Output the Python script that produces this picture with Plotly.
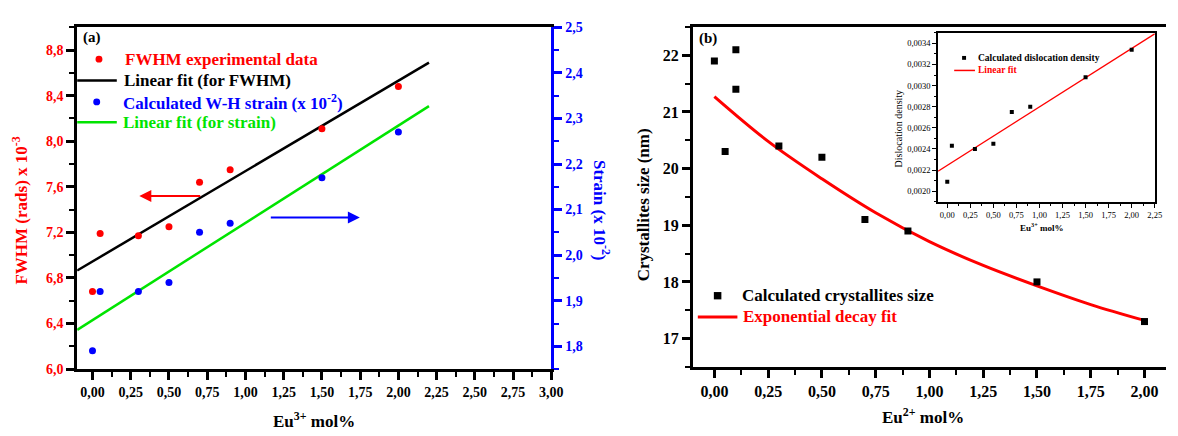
import plotly.graph_objects as go

W, H = 1178, 436

# ---------------- data: panel (a) ----------------
eu_a = [0, 0.05, 0.3, 0.5, 0.7, 0.9, 1.5, 2.0]
fwhm = [6.68, 7.19, 7.17, 7.25, 7.64, 7.75, 8.11, 8.48]
strain = [1.79, 1.92, 1.92, 1.94, 2.05, 2.07, 2.17, 2.27]
fit_x_a = [-0.1, 2.2]
fwhm_fit = [6.865, 8.69]
strain_fit = [1.836, 2.327]

# ---------------- data: panel (b) ----------------
eu_b = [0, 0.05, 0.1, 0.1, 0.3, 0.5, 0.7, 0.9, 1.5, 2.0]
cryst = [21.9, 20.3, 22.1, 21.4, 20.4, 20.2, 19.1, 18.9, 18.0, 17.3]
decay_x = [0, 0.25, 0.5, 0.75, 1.0, 1.25, 1.5, 1.75, 2.0]
decay_y = [21.27, 20.48, 19.82, 19.22, 18.71, 18.29, 17.93, 17.60, 17.32]

# ---------------- data: inset ----------------
eu_c = [0, 0.05, 0.3, 0.5, 0.7, 0.9, 1.5, 2.0]
disloc = [0.00209, 0.00243, 0.00240, 0.00245, 0.00275, 0.00280, 0.00308, 0.00334]
disloc_fit_x = [-0.1, 2.25]
disloc_fit = [0.00219, 0.00349]

RED = "#FF0000"
BLUE = "#0000FF"
GREEN = "#00E400"
FONT = "Liberation Serif"


def px(x):
    return x / W


def py(y):
    return 1 - y / H


fig = go.Figure()

# panel (a)
fig.add_trace(go.Scatter(x=fit_x_a, y=fwhm_fit, mode="lines",
                         line=dict(color="black", width=2.5), xaxis="x", yaxis="y"))
fig.add_trace(go.Scatter(x=fit_x_a, y=strain_fit, mode="lines",
                         line=dict(color=GREEN, width=2.5), xaxis="x", yaxis="y2"))
fig.add_trace(go.Scatter(x=eu_a, y=fwhm, mode="markers",
                         marker=dict(color=RED, size=7), xaxis="x", yaxis="y"))
fig.add_trace(go.Scatter(x=eu_a, y=strain, mode="markers",
                         marker=dict(color=BLUE, size=7), xaxis="x", yaxis="y2"))

# panel (b)
fig.add_trace(go.Scatter(x=decay_x, y=decay_y, mode="lines", line_shape="spline",
                         line=dict(color=RED, width=3), xaxis="x3", yaxis="y3"))
fig.add_trace(go.Scatter(x=eu_b, y=cryst, mode="markers",
                         marker=dict(color="black", size=7, symbol="square"),
                         xaxis="x3", yaxis="y3"))

# inset
fig.add_trace(go.Scatter(x=disloc_fit_x, y=disloc_fit, mode="lines",
                         line=dict(color=RED, width=1.3), xaxis="x4", yaxis="y4"))
fig.add_trace(go.Scatter(x=eu_c, y=disloc, mode="markers",
                         marker=dict(color="black", size=4, symbol="square"),
                         xaxis="x4", yaxis="y4"))

fig.update_layout(
    width=W, height=H, margin=dict(l=0, r=0, t=0, b=0),
    paper_bgcolor="white", plot_bgcolor="white",
    showlegend=False, separators=",.",
    font=dict(family=FONT, color="black", size=14, weight="bold"),
    xaxis=dict(domain=[px(78), px(557)], range=[-0.1, 3.0], anchor="y",
               dtick=0.25, tick0=0, tickformat=".2f",
               showline=True, linecolor="black", linewidth=3, mirror=True,
               ticks="outside", ticklen=8, tickwidth=2.5, tickcolor="black",
               minor=dict(ticks="outside", ticklen=5, tickwidth=2, tickcolor="black", dtick=0.125, tick0=0),
               tickfont=dict(size=14, color="black", family=FONT, weight="bold"),
               showgrid=False, zeroline=False),
    yaxis=dict(domain=[py(375), py(21)], range=[6.0, 9.0], anchor="x",
               dtick=0.4, tick0=6.0, tickformat=".1f",
               showline=True, linecolor="black", linewidth=3,
               ticks="outside", ticklen=8, tickwidth=2.5, tickcolor="black",
               minor=dict(ticks="outside", ticklen=5, tickwidth=2, tickcolor="black", dtick=0.2, tick0=6.0),
               tickfont=dict(size=14, color=RED, family=FONT, weight="bold"),
               showgrid=False, zeroline=False),
    yaxis2=dict(overlaying="y", side="right", anchor="x", range=[1.75, 2.5],
                dtick=0.1, tick0=1.8, tickformat=".1f",
                showline=True, linecolor=BLUE, linewidth=3,
                ticks="outside", ticklen=8, tickwidth=2.5, tickcolor=BLUE,
                minor=dict(ticks="outside", ticklen=5, tickwidth=2, tickcolor=BLUE, dtick=0.05, tick0=1.75),
                tickfont=dict(size=14, color=BLUE, family=FONT, weight="bold"),
                showgrid=False, zeroline=False),
    xaxis3=dict(domain=[px(700), 1.0], range=[-0.1, 2.1], anchor="y3",
                dtick=0.25, tick0=0, tickformat=".2f",
                showline=True, linecolor="black", linewidth=3, mirror=True,
                ticks="outside", ticklen=8, tickwidth=2.5, tickcolor="black",
                minor=dict(ticks="outside", ticklen=5, tickwidth=2, tickcolor="black", dtick=0.125, tick0=0),
                tickfont=dict(size=16, color="black", family=FONT, weight="bold"),
                showgrid=False, zeroline=False),
    yaxis3=dict(domain=[py(372.7), py(20.7)], range=[16.5, 22.5], anchor="x3",
                dtick=1, tick0=17, tickformat="d",
                showline=True, linecolor="black", linewidth=3,
                ticks="outside", ticklen=8, tickwidth=2.5, tickcolor="black",
                minor=dict(ticks="outside", ticklen=5, tickwidth=2, tickcolor="black", dtick=0.5, tick0=16.5),
                tickfont=dict(size=16, color="black", family=FONT, weight="bold"),
                showgrid=False, zeroline=False),
    xaxis4=dict(domain=[px(947.7), px(1166.7)], range=[-0.1, 2.251], anchor="y4",
                dtick=0.25, tick0=0, tickformat=".2f",
                showline=True, linecolor="black", linewidth=1.5, mirror=True,
                ticks="outside", ticklen=4, tickwidth=1.2, tickcolor="black",
                minor=dict(ticks="outside", ticklen=2.5, tickwidth=1, tickcolor="black", dtick=0.125, tick0=0),
                tickfont=dict(size=8.5, color="black", family=FONT, weight="normal"),
                showgrid=False, zeroline=False),
    yaxis4=dict(domain=[py(201.7), py(26.7)], range=[0.0019, 0.0035], anchor="x4",
                dtick=0.0002, tick0=0.002, tickformat=".4f",
                showline=True, linecolor="black", linewidth=1.5, mirror=True,
                ticks="outside", ticklen=4, tickwidth=1.2, tickcolor="black",
                minor=dict(ticks="outside", ticklen=2.5, tickwidth=1, tickcolor="black", dtick=0.0001, tick0=0.0019),
                tickfont=dict(size=8.5, color="black", family=FONT, weight="normal"),
                showgrid=False, zeroline=False),
)

annotations = []
shapes = []


def text(x, y, s, size, color="black", anchor="left", angle=0, weight="bold"):
    annotations.append(dict(x=px(x), y=py(y), xref="paper", yref="paper", text=s,
                            showarrow=False, xanchor=anchor, yanchor="middle",
                            textangle=angle,
                            font=dict(family=FONT, size=size, color=color, weight=weight)))


def seg(x0, x1, y, color, width):
    shapes.append(dict(type="line", xref="paper", yref="paper", x0=px(x0), x1=px(x1),
                       y0=py(y), y1=py(y), line=dict(color=color, width=width)))


def dot(x, y, r, color, kind="circle"):
    shapes.append(dict(type=kind, xref="paper", yref="paper", x0=px(x - r), x1=px(x + r),
                       y0=py(y + r), y1=py(y - r), fillcolor=color, line=dict(width=0)))


# panel (a) labels and legend
text(82, 31.5, "(a)", 15)
dot(100, 54, 3.5, RED)
text(124, 54, "FWHM experimental data", 17, RED)
seg(78, 118, 76, "black", 2.5)
text(123, 76, "Linear fit (for FWHM)", 17, "black")
dot(97.7, 98.3, 3.5, BLUE)
text(122, 98.3, "Calculated W-H strain (x 10<sup>-2</sup>)", 17, BLUE)
seg(78, 118, 119.3, GREEN, 2.5)
text(122, 119.3, "Linear fit (for strain)", 17, GREEN)
text(20, 211, "FWHM (rads) x 10<sup>-3</sup>", 17, RED, anchor="center", angle=-90)
text(608, 211, "Strain (x 10<sup>-2</sup>)", 17, BLUE, anchor="center", angle=90)
text(317, 428, "Eu<sup>3+</sup> mol%", 17, "black", anchor="center")

# arrows (panel a)
annotations.append(dict(x=0.306, y=7.52, ax=0.714, ay=7.52, xref="x", yref="y",
                        axref="x", ayref="y", showarrow=True, arrowhead=2,
                        arrowsize=1.2, arrowwidth=2, arrowcolor=RED, text=""))
annotations.append(dict(x=1.748, y=7.331, ax=1.156, ay=7.331, xref="x", yref="y",
                        axref="x", ayref="y", showarrow=True, arrowhead=2,
                        arrowsize=1.2, arrowwidth=2, arrowcolor=BLUE, text=""))

# panel (b) labels and legend
text(704, 33, "(b)", 15)
dot(725, 299, 3.8, "black", "rect")
text(748, 299, "Calculated crystallites size", 17, "black")
seg(705, 745, 321, RED, 3)
text(749, 321, "Exponential decay fit", 17, RED)
text(651, 205, "Crystallites size (nm)", 17, "black", anchor="center", angle=-90)
text(933, 424, "Eu<sup>2+</sup> mol%", 17, "black", anchor="center")

# inset labels and legend
dot(974, 52.7, 2, "black", "rect")
text(986, 52.7, "Calculated dislocation density", 9.5, "black")
seg(964, 985, 65.7, RED, 1.5)
text(986, 65.7, "Linear fit", 9.5, RED)
text(908, 126, "Dislocation density", 10, "black", anchor="center", angle=-90, weight="normal")
text(1053, 227.5, "Eu<sup>3+</sup> mol%", 9, "black", anchor="center")

fig.update_layout(annotations=annotations, shapes=shapes)

fig.write_html("out.html",
               post_script="document.body.style.margin='0';document.body.style.overflow='hidden';")
